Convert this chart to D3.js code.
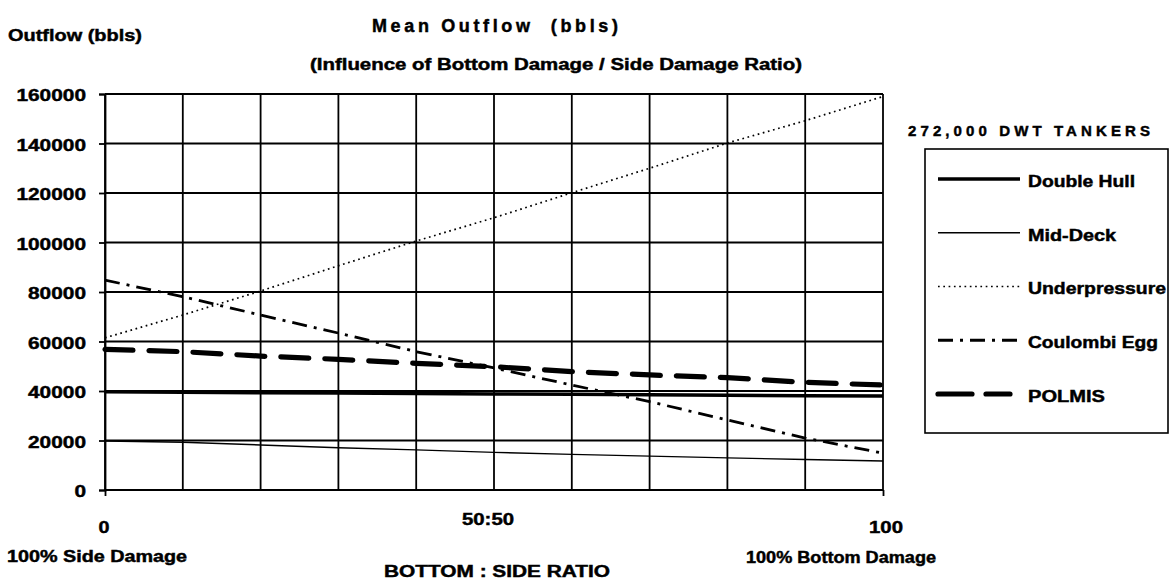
<!DOCTYPE html>
<html>
<head>
<meta charset="utf-8">
<script src="https://cdn.jsdelivr.net/npm/d3@7"></script>
<style>
  html, body { margin: 0; padding: 0; background: #fff; }
  svg { display: block; }
  text { font-family: "Liberation Sans", Arial, sans-serif; font-weight: bold; fill: #000; stroke: #000; stroke-width: 0.45px; }
</style>
</head>
<body>
<svg id="chart" width="1170" height="581"></svg>
<script>
// ---- data ----
const ratios = [0, 10, 20, 30, 40, 50, 60, 70, 80, 90, 100];
const doubleHull    = [39700, 39500, 39300, 39200, 39000, 38800, 38700, 38500, 38300, 38100, 38000];
const midDeck       = [19800, 19300, 18200, 17100, 16200, 15200, 14400, 13700, 13000, 12300, 11700];
const underpressure = [61500, 70700, 80400, 90600, 100600, 110000, 120100, 130000, 140200, 149200, 159000];
const coulombiEgg   = [84800, 78100, 70700, 63400, 55900, 49300, 42400, 35700, 28300, 21000, 14900];
const polmis        = [56800, 55900, 54100, 52800, 51200, 49800, 47800, 46500, 45400, 43500, 42400];
const seriesNames = ["Double Hull", "Mid-Deck", "Underpressure", "Coulombi Egg", "POLMIS"];
const yTicks = [0, 20000, 40000, 60000, 80000, 100000, 120000, 140000, 160000];
const xTickLabels = [{v: 0, t: "0"}, {v: 50, t: "50:50"}, {v: 100, t: "100"}];

const styles = {
  "Double Hull":   {w: 3.4, dash: null},
  "Mid-Deck":      {w: 1.4, dash: null},
  "Underpressure": {w: 1.7, dash: "1.7,3.6"},
  "Coulombi Egg":  {w: 2.8, dash: "15,7,3,7"},
  "POLMIS":        {w: 5.2, dash: "28,16"}
};
const seriesData = [doubleHull, midDeck, underpressure, coulombiEgg, polmis];

const svg = d3.select("#chart");
const L = 105, R = 883, T = 94, B = 490;
const x = d3.scaleLinear().domain([0, 100]).range([L, R]);
const y = d3.scaleLinear().domain([0, 160000]).range([B, T]);

function fit(sel, w, mode) {
  sel.attr("textLength", w).attr("lengthAdjust", mode || "spacingAndGlyphs");
  return sel;
}

// grid
const g = svg.append("g");
g.selectAll("line.v").data(d3.range(0, 101, 10)).join("line")
  .attr("x1", d => x(d)).attr("x2", d => x(d))
  .attr("y1", y(160000)).attr("y2", y(0))
  .attr("stroke", "#000").attr("stroke-width", 1.8);
g.selectAll("line.h").data(yTicks).join("line")
  .attr("x1", x(0)).attr("x2", x(100))
  .attr("y1", d => y(d)).attr("y2", d => y(d))
  .attr("stroke", "#000").attr("stroke-width", 1.8);

// y axis
const yAxis = d3.axisLeft(y).tickValues(yTicks).tickSize(6).tickPadding(13).tickFormat(d3.format("d"));
const ya = svg.append("g").attr("transform", `translate(${L},0)`).call(yAxis);
ya.select(".domain").attr("stroke-width", 1.8);
ya.selectAll(".tick line").attr("stroke-width", 1.8);
ya.selectAll(".tick text").style("font-size", "17px").attr("dy", "0.4em")
  .each(function(d) { fit(d3.select(this), String(d).length * 11.6); });

// x axis ticks (only at ends)
const xAxis = d3.axisBottom(x).tickValues([0, 100]).tickSize(6).tickFormat("");
const xa = svg.append("g").attr("transform", `translate(0,${B})`).call(xAxis);
xa.select(".domain").remove();
xa.selectAll(".tick line").attr("stroke-width", 1.8);

// x tick labels
const xlWidths = {"0": 11, "50:50": 52, "100": 34};
svg.selectAll("text.xl").data(xTickLabels).join("text")
  .attr("class", "xl")
  .attr("x", d => x(d.v) + (d.v === 50 ? -6 : (d.v === 100 ? 3 : -1)))
  .attr("y", d => d.v === 50 ? 525 : 533)
  .attr("text-anchor", "middle").style("font-size", "17px")
  .text(d => d.t)
  .each(function(d) { fit(d3.select(this), xlWidths[d.t]); });

// lines
const line = d3.line().x((d, i) => x(ratios[i])).y(d => y(d));
seriesNames.forEach((name, k) => {
  svg.append("path").datum(seriesData[k])
    .attr("d", line).attr("fill", "none").attr("stroke", "#000")
    .attr("stroke-width", styles[name].w)
    .attr("stroke-dasharray", styles[name].dash)
    .attr("stroke-linecap", name === "POLMIS" ? "round" : "butt");
});

// titles
fit(svg.append("text").attr("x", 372).attr("y", 32)
  .style("font-size", "18px").style("white-space", "pre").text("Mean Outflow  (bbls)"), 246, "spacing");
fit(svg.append("text").attr("x", 310).attr("y", 70)
  .style("font-size", "16px").text("(Influence of Bottom Damage / Side Damage Ratio)"), 492);
fit(svg.append("text").attr("x", 8).attr("y", 41)
  .style("font-size", "17px").text("Outflow (bbls)"), 134);

// axis titles
fit(svg.append("text").attr("x", 7).attr("y", 562).style("font-size", "16px").text("100% Side Damage"), 180);
fit(svg.append("text").attr("x", 746).attr("y", 563).style("font-size", "16px").text("100% Bottom Damage"), 190);
fit(svg.append("text").attr("x", 384).attr("y", 577).style("font-size", "16px").text("BOTTOM : SIDE RATIO"), 226);

// legend
fit(svg.append("text").attr("x", 908).attr("y", 136)
  .style("font-size", "15px").text("272,000 DWT TANKERS"), 242, "spacing");
svg.append("rect").attr("x", 925).attr("y", 149).attr("width", 243).attr("height", 284)
  .attr("fill", "none").attr("stroke", "#000").attr("stroke-width", 1.6);
const legY = d3.scalePoint().domain(seriesNames).range([181, 396]);
const legW = {"Double Hull": 107, "Mid-Deck": 88, "Underpressure": 138, "Coulombi Egg": 130, "POLMIS": 77};
seriesNames.forEach(name => {
  const yy = legY(name);
  svg.append("line").attr("x1", 938).attr("x2", name === "POLMIS" ? 1010 : 1020)
    .attr("y1", yy - 2).attr("y2", yy - 2).attr("stroke", "#000")
    .attr("stroke-width", styles[name].w)
    .attr("stroke-dasharray", name === "POLMIS" ? "34,14" : styles[name].dash)
    .attr("stroke-linecap", name === "POLMIS" ? "round" : "butt");
  fit(svg.append("text").attr("x", 1028).attr("y", yy).attr("dy", "0.36em")
    .style("font-size", "16px").text(name), legW[name]);
});
</script>
</body>
</html>
